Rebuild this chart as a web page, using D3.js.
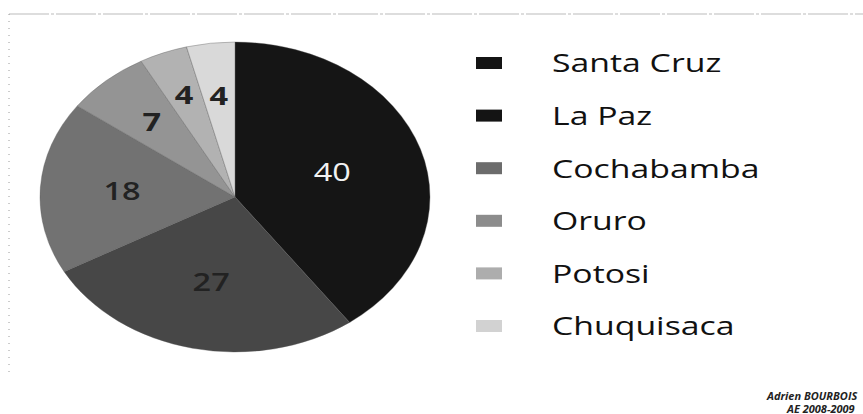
<!DOCTYPE html>
<html>
<head>
<meta charset="utf-8">
<script src="https://cdn.jsdelivr.net/npm/d3@7"></script>
<style>
  body { margin: 0; background: #fff; }
  svg { display: block; }
</style>
</head>
<body>
<svg id="chart" width="863" height="414"></svg>
<script>
// departments and their share
const departments = ["Santa Cruz", "La Paz", "Cochabamba", "Oruro", "Potosi", "Chuquisaca"];
const shares = [40, 27, 18, 7, 4, 4];
const sliceColors = ["#151515", "#474747", "#727272", "#949494", "#b2b2b2", "#d9d9d9"];
const legendColors = ["#141414", "#141414", "#6c6c6c", "#8c8c8c", "#adadad", "#d2d2d2"];
const credit = ["Adrien BOURBOIS", "AE 2008-2009"];

const svg = d3.select("#chart");
const font = "'Open Sans', 'DejaVu Sans', sans-serif";
const stretch = 1.3; // the whole picture looks stretched sideways

// frame (dotted top and left edges)
svg.append("line")
    .attr("x1", 9).attr("y1", 14).attr("x2", 863).attr("y2", 14)
    .style("stroke", "#bcbcbc").style("stroke-width", 1.2)
    .style("stroke-dasharray", "40 2 3 2");
svg.append("line")
    .attr("x1", 9).attr("y1", 14).attr("x2", 9).attr("y2", 372)
    .style("stroke", "#9a9a9a").style("stroke-width", 1)
    .style("stroke-dasharray", "1 6");

// pie, drawn as a circle squashed vertically
let cx = 235, cy = 197, rx = 195, ry = 155;

const pie = d3.pie().sort(null).value(d => d.value);
const arcs = pie(departments.map((name, i) => ({name: name, value: shares[i], i: i})));
const arc = d3.arc().innerRadius(0).outerRadius(rx);

const pieG = svg.append("g")
    .attr("transform", "translate(" + cx + "," + cy + ") scale(1," + (ry / rx) + ")");

pieG.selectAll("path")
    .data(arcs)
    .enter().append("path")
    .attr("d", arc)
    .style("fill", d => sliceColors[d.data.i])
    .style("stroke", "#555")
    .style("stroke-width", 0.4);

// value labels, placed along each slice's middle angle
const labelR = [0.525, 0.56, 0.58, 0.645, 0.71, 0.66];
const labelStyle = [
    {fill: "#f2f2f2", weight: 400},
    {fill: "#222", weight: 600},
    {fill: "#222", weight: 600},
    {fill: "#222", weight: 700},
    {fill: "#222", weight: 700},
    {fill: "#222", weight: 700}
];

function labelPos(d) {
    let a = (d.startAngle + d.endAngle) / 2;
    let f = labelR[d.data.i];
    return [cx + Math.sin(a) * rx * f, cy - Math.cos(a) * ry * f];
}

svg.append("g").selectAll("text")
    .data(arcs)
    .enter().append("text")
    .attr("transform", d => "translate(" + labelPos(d) + ") scale(" + stretch + ",1)")
    .attr("dy", "0.36em")
    .attr("text-anchor", "middle")
    .style("font-family", font)
    .style("font-size", "25px")
    .style("font-weight", d => labelStyle[d.data.i].weight)
    .style("fill", d => labelStyle[d.data.i].fill)
    .text(d => d.data.value);

// legend
const legend = svg.append("g");
const rowY = d3.scalePoint().domain(departments).range([63, 326]);

legend.selectAll("rect")
    .data(departments)
    .enter().append("rect")
    .attr("x", 476)
    .attr("y", d => rowY(d) - 6)
    .attr("width", 26)
    .attr("height", 12)
    .style("fill", (d, i) => legendColors[i]);

legend.selectAll("text")
    .data(departments)
    .enter().append("text")
    .attr("transform", d => "translate(552," + rowY(d) + ") scale(" + stretch + ",1)")
    .attr("dy", "0.36em")
    .style("font-family", font)
    .style("font-size", "26px")
    .style("fill", "#111")
    .text(d => d);

// author credit, cut at the right edge as in the original
svg.append("g").selectAll("text")
    .data(credit)
    .enter().append("text")
    .attr("transform", (d, i) => "translate(" + (i == 0 ? 767 : 787) + "," + (400 + i * 13) + ") scale(1.1,1)")
    .style("font-family", font)
    .style("font-size", "10px")
    .style("font-style", "italic")
    .style("font-weight", 700)
    .style("fill", "#222")
    .text(d => d);
</script>
</body>
</html>
